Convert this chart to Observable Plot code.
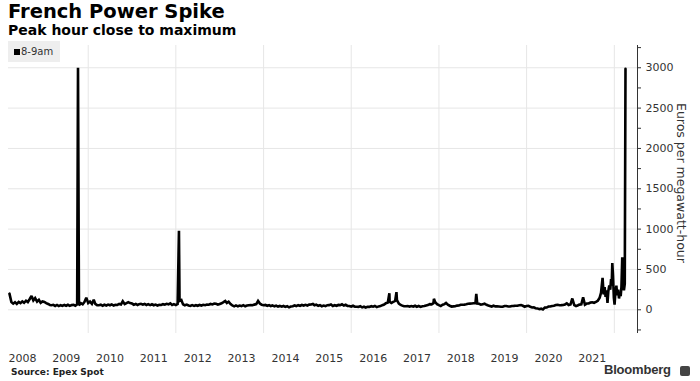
<!DOCTYPE html>
<html>
<head>
<meta charset="utf-8">
<script src="https://cdn.jsdelivr.net/npm/d3@7"></script>
<script src="https://cdn.jsdelivr.net/npm/@observablehq/plot@0.6"></script>
<style>
  html, body { margin: 0; padding: 0; background: #fff; }
  #wrap { position: relative; width: 700px; height: 381px; overflow: hidden; font-family: "DejaVu Sans", sans-serif; }
  #title { position: absolute; left: 8px; top: 0px; font-weight: bold; font-size: 19.5px; color: #000; }
  #subtitle { position: absolute; left: 8px; top: 22px; font-weight: bold; font-size: 14px; color: #000; }
  #legend { position: absolute; left: 8px; top: 41px; width: 52px; height: 21px; background: #eeeeee; font-size: 10px; color: #333; line-height: 21px; }
  #legend span.sw { display: inline-block; width: 6px; height: 6px; background: #000; margin-left: 6px; margin-right: 1px; vertical-align: 0px; }
  #chart { position: absolute; left: 0; top: 40px; }
  #ylabel { position: absolute; left: 674px; top: 103px; writing-mode: vertical-rl; font-size: 12.5px; color: #333; }
  #source { position: absolute; left: 11px; top: 367px; font-weight: bold; font-size: 9px; color: #222; }
  #brand { position: absolute; left: 604px; top: 362px; font-size: 13px; color: #333; font-family: "Liberation Sans", sans-serif; font-weight: bold; letter-spacing: -0.2px; }
  #logo { position: absolute; left: 680px; top: 366px; width: 10px; height: 10px; background: #444; border-radius: 2px; }
</style>
</head>
<body>
<div id="wrap">
  <div id="title">French Power Spike</div>
  <div id="subtitle">Peak hour close to maximum</div>
  <div id="chart"></div>
  <div id="legend"><span class="sw"></span>8-9am</div>
  <div id="ylabel">Euros per megawatt-hour</div>
  <div id="source">Source: Epex Spot</div>
  <div id="brand">Bloomberg</div>
  <div id="logo"></div>
</div>
<script>
// Semi-monthly readings (1st and 16th of each month), euros per MWh, 8-9am hour
const p2008 = [200, 95, 76, 94, 72, 98, 82, 104, 86, 112, 96, 134, 172, 116, 144, 102, 124, 86, 104]; // from Mar 16
const p2009 = [97, 83, 72, 60, 57, 62, 48, 60, 46, 57, 48, 60, 50, 62, 48, 58, 62, 50, 67, 56, 82, 68, 97, 150];
const p2010 = [83, 102, 73, 125, 72, 58, 57, 64, 50, 62, 53, 64, 56, 67, 53, 62, 60, 72, 66, 105, 70, 82, 94, 83];
const p2011 = [77, 63, 72, 60, 70, 74, 63, 72, 60, 70, 58, 68, 56, 64, 53, 62, 60, 70, 63, 74, 68, 80, 60, 70];
const p2012 = [58, 72, 110, 120, 67, 56, 64, 53, 48, 58, 48, 57, 50, 60, 53, 62, 56, 64, 63, 72, 66, 77, 74, 63];
const p2013 = [72, 80, 95, 110, 85, 100, 72, 53, 43, 54, 43, 52, 46, 57, 43, 52, 57, 60, 56, 64, 70, 110, 77, 63];
const p2014 = [57, 60, 50, 58, 46, 54, 43, 52, 40, 48, 38, 47, 36, 44, 30, 40, 45, 54, 46, 57, 50, 60, 53, 62];
const p2015 = [53, 64, 65, 72, 56, 64, 50, 58, 43, 52, 46, 57, 58, 67, 48, 57, 50, 60, 58, 68, 53, 62, 48, 47];
const p2016 = [40, 50, 38, 37, 36, 44, 30, 38, 28, 36, 36, 44, 38, 47, 33, 42, 46, 57, 65, 82, 90, 100, 85, 97];
const p2017 = [110, 120, 77, 60, 52, 43, 44, 46, 40, 47, 40, 50, 38, 47, 36, 44, 46, 54, 58, 70, 68, 82, 95, 70];
const p2018 = [57, 46, 62, 70, 85, 63, 50, 40, 42, 43, 52, 53, 62, 63, 64, 68, 74, 76, 77, 80, 82, 76, 74, 63];
const p2019 = [70, 75, 62, 53, 47, 40, 50, 42, 42, 40, 37, 38, 47, 46, 40, 40, 47, 48, 50, 50, 57, 58, 50, 38];
const p2020 = [47, 48, 37, 28, 30, 20, 17, 8, 14, 4, 27, 28, 40, 40, 47, 50, 60, 63, 57, 58, 60, 66, 80, 60];
const p2021 = [67, 140, 58, 47, 53, 64, 68, 155, 63, 77, 78, 90, 93, 87, 98, 112]; // to Aug 16

// Volatile period, denser readings
const lateDates = ["2021-09-01","2021-09-12","2021-09-25","2021-10-04","2021-10-12","2021-10-20","2021-10-28","2021-11-05","2021-11-12","2021-11-20","2021-11-28","2021-12-05","2021-12-10","2021-12-15","2021-12-21","2021-12-28","2022-01-03","2022-01-10","2022-01-18","2022-01-25","2022-02-02","2022-02-09","2022-02-16","2022-02-23","2022-03-01","2022-03-08","2022-03-15","2022-03-22","2022-03-29","2022-04-04"];
const lateValues = [150, 210, 395, 190, 280, 160, 240, 85, 230, 300, 250, 380, 300, 580, 420, 150, 64, 220, 300, 180, 250, 140, 210, 170, 280, 650, 310, 240, 320, 2988];

// Isolated spikes
const spikeDates = ["2009-10-08", "2012-01-27", "2016-11-14", "2017-01-12", "2017-11-20", "2018-11-08"];
const spikeValues = [3000, 980, 206, 218, 136, 196];

// Axis ticks
const yTicks = [0, 500, 1000, 1500, 2000, 2500, 3000];
const yMinorTicks = [-250, 250, 750, 1250, 1750, 2250, 2750, 3250];
const yearLabels = [2008, 2009, 2010, 2011, 2012, 2013, 2014, 2015, 2016, 2017, 2018, 2019, 2020, 2021];
const gridYears = [2010, 2012, 2014, 2016, 2018, 2020, 2022];

const xDomain = [new Date("2008-03-08"), new Date("2022-07-13")];
const yDomain = [-294, 3276];

// Build table
const yearly = [[2008, p2008, 5], [2009, p2009, 0], [2010, p2010, 0], [2011, p2011, 0], [2012, p2012, 0],
  [2013, p2013, 0], [2014, p2014, 0], [2015, p2015, 0], [2016, p2016, 0], [2017, p2017, 0],
  [2018, p2018, 0], [2019, p2019, 0], [2020, p2020, 0], [2021, p2021, 0]];
let data = [];
for (const [yr, arr, off] of yearly) {
  arr.forEach((v, j) => {
    const i = j + off;
    data.push({date: new Date(Date.UTC(yr, Math.floor(i / 2), i % 2 ? 16 : 1)), value: v});
  });
}
lateDates.forEach((d, i) => data.push({date: new Date(d), value: lateValues[i]}));
spikeDates.forEach((d, i) => data.push({date: new Date(d), value: spikeValues[i]}));
data.sort((a, b) => a.date - b.date);

const chart = Plot.plot({
  width: 700,
  height: 325,
  marginLeft: 8,
  marginRight: 63,
  marginTop: 5,
  marginBottom: 32,
  style: {fontFamily: "DejaVu Sans, sans-serif", fontSize: "11px", color: "#333", background: "transparent"},
  x: {type: "utc", domain: xDomain},
  y: {domain: yDomain},
  marks: [
    Plot.ruleY(yTicks, {stroke: "#e6e6e6", strokeWidth: 1}),
    Plot.ruleX(gridYears.map(y => new Date(Date.UTC(y, 0, 1))), {stroke: "#e6e6e6", strokeWidth: 1}),
    Plot.axisX({ticks: yearLabels.map(y => new Date(Date.UTC(y, 6, 2))), tickFormat: d => String(d.getUTCFullYear()), tickSize: 0, tickPadding: 21, fontSize: 11, fill: "#333", label: null}),
    Plot.axisY({anchor: "right", ticks: yTicks, tickFormat: d => String(d), tickSize: 3, tickPadding: 5, fontSize: 11, fill: "#333", stroke: "#333", label: null}),
    Plot.axisY({anchor: "right", ticks: yMinorTicks, tickSize: 3, tickFormat: () => "", stroke: "#333", label: null}),
    Plot.ruleX([xDomain[1]], {stroke: "#333", strokeWidth: 1}),
    Plot.lineY(data, {x: "date", y: "value", stroke: "#000", strokeWidth: 2.6, strokeLinejoin: "miter", strokeMiterlimit: 2})
  ]
});
document.getElementById("chart").appendChild(chart);
</script>
</body>
</html>
